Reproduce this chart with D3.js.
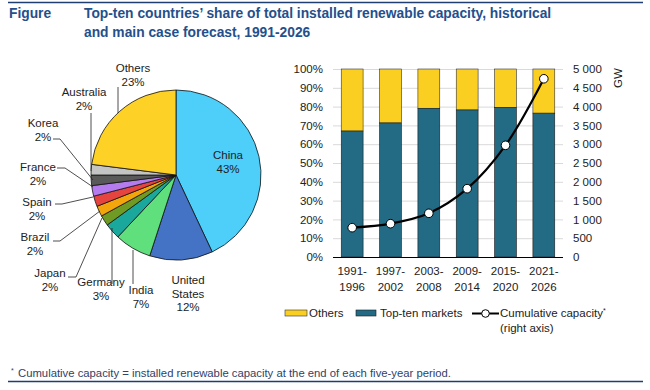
<!DOCTYPE html>
<html><head><meta charset="utf-8">
<script src="https://cdn.jsdelivr.net/npm/d3@7"></script>
<style>body{margin:0;background:#fff;}svg{display:block;font-family:Arial,"Liberation Sans",sans-serif;}</style>
</head><body>
<svg id="c" width="650" height="390"></svg>
<script>
// Pie data
const countries = ["China","United States","India","Germany","Japan","Brazil","Spain","France","Korea","Australia","Others"];
const shares = [43,12,7,3,2,2,2,2,2,2,23];
const pieColors = ["#4dcff9","#4472c4","#5fe07c","#1aa89c","#6f9a24","#f3a50c","#e5443f","#b57cef","#595959","#c4c4c4","#fdd126"];
// Bar data
const periods = [["1991-","1996"],["1997-","2002"],["2003-","2008"],["2009-","2014"],["2015-","2020"],["2021-","2026"]];
const topTen = [67.0,71.3,79.1,78.2,79.6,76.5];
const cumulative = [780,886,1162,1817,2970,4740];
const pctTicks = [0,10,20,30,40,50,60,70,80,90,100];
const gwTicks = [0,500,1000,1500,2000,2500,3000,3500,4000,4500,5000];

const svg = d3.select("#c");
const navy = "#1f3f73";
const FS = 11.5;
// frame lines
svg.append("line").attr("x1",8).attr("x2",643).attr("y1",2.5).attr("y2",2.5).attr("stroke",navy).attr("stroke-width",1.5);
svg.append("line").attr("x1",8).attr("x2",643).attr("y1",381.5).attr("y2",381.5).attr("stroke",navy).attr("stroke-width",1.5);
// title
const tc = "#24508c";
svg.append("text").attr("x",9).attr("y",18).attr("fill",tc).attr("font-weight","bold").attr("font-size",13.8).text("Figure");
svg.append("text").attr("x",84).attr("y",18).attr("fill",tc).attr("font-weight","bold").attr("font-size",13.8).text("Top-ten countries\u2019 share of total installed renewable capacity, historical");
svg.append("text").attr("x",84).attr("y",37).attr("fill",tc).attr("font-weight","bold").attr("font-size",13.8).text("and main case forecast, 1991-2026");
// footnote
const fn = svg.append("text").attr("x",11).attr("y",377).attr("fill","#2f4268").attr("font-size",11.3);
fn.append("tspan").attr("font-size",7).attr("dy",-4).text("*");
fn.append("tspan").attr("x",18).attr("dy",4).text("Cumulative capacity = installed renewable capacity at the end of each five-year period.");

// PIE
const cx = 176, cy = 175, R = 85;
const pieG = svg.append("g").attr("transform",`translate(${cx},${cy})`);
const pie = d3.pie().sort(null).value(d=>d)(shares);
const arc = d3.arc().innerRadius(0).outerRadius(R);
pieG.selectAll("path").data(pie).join("path").attr("d",arc)
  .attr("fill",(d,i)=>pieColors[i]).attr("stroke","#111").attr("stroke-width",0.8);

const tcol = "#222";
function lbl(x,y,lines,anchor){
  const t = svg.append("text").attr("x",x).attr("y",y).attr("fill",tcol).attr("font-size",FS).attr("text-anchor",anchor||"middle");
  lines.forEach((s,i)=>t.append("tspan").attr("x",x).attr("dy",i?13.5:0).text(s));
}
function leader(pts){
  svg.append("path").attr("d",d3.line()(pts)).attr("fill","none").attr("stroke","#222").attr("stroke-width",0.8);
}
// labels for each slice
lbl(228,159,[countries[0],shares[0]+"%"]);
lbl(188,284,["United","States",shares[1]+"%"]);
lbl(141,294,[countries[2],shares[2]+"%"]);
leader([[133,250],[133,284]]);
lbl(101,286,[countries[3],shares[3]+"%"]);
leader([[112,228],[112,284]]);
lbl(50,277,[countries[4],shares[4]+"%"]);
leader([[68,277],[76,277],[102,218]]);
lbl(35,241,[countries[5],shares[5]+"%"]);
leader([[53,241],[60,241],[100,211]]);
lbl(37,206,[countries[6],shares[6]+"%"]);
leader([[55,204],[62,204],[93,197]]);
lbl(38,171,[countries[7],shares[7]+"%"]);
leader([[57,168],[65,168],[93,187]]);
lbl(43,127,[countries[8],shares[8]+"%"]);
leader([[53,139],[60,139],[93,180]]);
lbl(84,96,[countries[9],shares[9]+"%"]);
leader([[91,113],[91,171]]);
lbl(133,72,[countries[10],shares[10]+"%"]);
leader([[118,87],[118,113]]);

// BAR CHART
const x0 = 333, x1 = 563, yTop = 69, yBot = 257;
const x = d3.scaleBand().domain(periods.map(p=>p[0])).range([x0,x1]).paddingInner(0.43).paddingOuter(0.215);
const yL = d3.scaleLinear().domain([0,100]).range([yBot,yTop]);
const yR = d3.scaleLinear().domain([0,5000]).range([yBot,yTop]);
const g = svg.append("g");
// gridlines
g.selectAll("line.grid").data(pctTicks.slice(1)).join("line").attr("class","grid")
  .attr("x1",x0).attr("x2",x1).attr("y1",d=>yL(d)+0.5).attr("y2",d=>yL(d)+0.5).attr("stroke","#d9d9d9").attr("stroke-width",1);
// bars
const barCol = "#236b85", othCol = "#fbcf21";
g.selectAll("rect.oth").data(topTen).join("rect").attr("class","oth")
  .attr("x",(d,i)=>x(periods[i][0])).attr("width",x.bandwidth())
  .attr("y",yL(100)).attr("height",d=>yL(d)-yL(100)).attr("fill",othCol).attr("stroke","#333").attr("stroke-width",0.6);
g.selectAll("rect.top").data(topTen).join("rect").attr("class","top")
  .attr("x",(d,i)=>x(periods[i][0])).attr("width",x.bandwidth())
  .attr("y",d=>yL(d)).attr("height",d=>yBot-yL(d)).attr("fill",barCol).attr("stroke","#1a1a1a").attr("stroke-width",0.6);
// axis baseline
g.append("line").attr("x1",x0).attr("x2",x1).attr("y1",yBot+0.5).attr("y2",yBot+0.5).attr("stroke","#000").attr("stroke-width",1.2);
// left axis labels
const axisG = svg.append("g").attr("transform",`translate(${x0},0)`)
  .call(d3.axisLeft(yL).tickValues(pctTicks).tickSize(0).tickPadding(10).tickFormat(d=>d+"%"));
axisG.select(".domain").remove();
axisG.selectAll("text").attr("font-size",FS).attr("fill",tcol).attr("font-family","Arial, 'Liberation Sans', sans-serif");
// right axis labels
const axisR = svg.append("g").attr("transform",`translate(${x1},0)`)
  .call(d3.axisRight(yR).tickValues(gwTicks).tickSize(0).tickPadding(10).tickFormat(d=>d3.format(",")(d).replace(/,/g," ")));
axisR.select(".domain").remove();
axisR.selectAll("text").attr("font-size",FS).attr("fill",tcol).attr("font-family","Arial, 'Liberation Sans', sans-serif");
svg.append("text").attr("transform","translate(622,78) rotate(-90)").attr("text-anchor","middle").attr("font-size",FS).attr("fill",tcol).text("GW");
// x labels
periods.forEach((p,i)=>{
  const cxp = x(p[0]) + x.bandwidth()/2;
  const t = svg.append("text").attr("x",cxp).attr("y",275).attr("text-anchor","middle").attr("font-size",FS).attr("fill",tcol);
  t.append("tspan").attr("x",cxp).text(p[0]);
  t.append("tspan").attr("x",cxp).attr("dy",15.5).text(p[1]);
});
// line
const lineGen = d3.line().x((d,i)=>x(periods[i][0])+x.bandwidth()/2).y(d=>yR(d)).curve(d3.curveCatmullRom.alpha(0.5));
g.append("path").attr("d",lineGen(cumulative)).attr("fill","none").attr("stroke","#000").attr("stroke-width",2.2);
g.selectAll("circle").data(cumulative).join("circle")
  .attr("cx",(d,i)=>x(periods[i][0])+x.bandwidth()/2).attr("cy",d=>yR(d)).attr("r",4.3)
  .attr("fill","#fff").attr("stroke","#000").attr("stroke-width",1);

// legend
const ly = 313;
svg.append("rect").attr("x",285).attr("y",ly-3).attr("width",22).attr("height",6).attr("fill",othCol).attr("stroke","#333").attr("stroke-width",0.6);
svg.append("text").attr("x",309).attr("y",ly+4).attr("font-size",FS).attr("fill",tcol).text("Others");
svg.append("rect").attr("x",356).attr("y",ly-3).attr("width",20).attr("height",6).attr("fill",barCol).attr("stroke","#1a1a1a").attr("stroke-width",0.6);
svg.append("text").attr("x",380).attr("y",ly+4).attr("font-size",FS).attr("fill",tcol).text("Top-ten markets");
svg.append("line").attr("x1",472).attr("x2",499).attr("y1",ly+0.5).attr("y2",ly+0.5).attr("stroke","#000").attr("stroke-width",2);
svg.append("circle").attr("cx",485.5).attr("cy",ly+0.5).attr("r",3.8).attr("fill","#fff").attr("stroke","#000").attr("stroke-width",1);
const lt = svg.append("text").attr("x",500).attr("y",ly+4).attr("font-size",FS).attr("fill",tcol).text("Cumulative capacity");
lt.append("tspan").attr("font-size",7).attr("dy",-4).text("*");
svg.append("text").attr("x",500).attr("y",ly+19).attr("font-size",FS).attr("fill",tcol).text("(right axis)");
</script>
</body></html>
